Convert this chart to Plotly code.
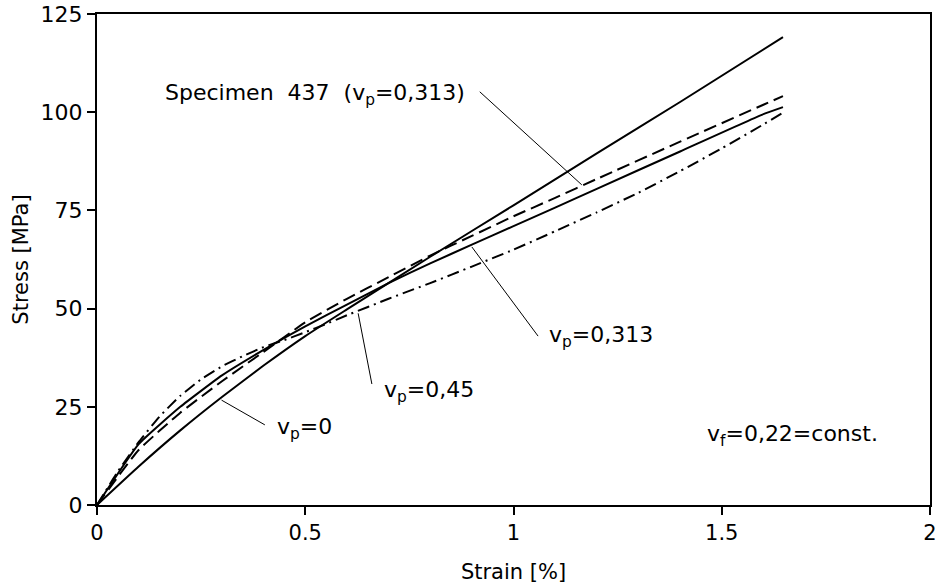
import plotly.graph_objects as go

# ---- data ----
strain_vp0 = [0, 0.1, 0.2, 0.3, 0.4, 0.5, 0.6, 0.8, 1.0, 1.2, 1.4, 1.647]
stress_vp0 = [0, 9.8, 19, 27.5, 35.5, 43, 49.8, 63.2, 76.3, 89.5, 102.6, 119.1]

strain_vp313 = [0, 0.1, 0.2, 0.3, 0.4, 0.5, 0.6, 0.7, 0.8, 0.9, 1.0, 1.1, 1.2, 1.4, 1.6, 1.647]
stress_vp313 = [0, 15.5, 25, 33, 39.5, 45.5, 51, 56.5, 61.5, 66.3, 71, 75.7, 80.5, 90, 99.5, 101.3]

strain_spec = [0, 0.1, 0.2, 0.3, 0.4, 0.5, 0.6, 0.7, 0.8, 0.9, 1.0, 1.1, 1.2, 1.4, 1.6, 1.647]
stress_spec = [0, 14, 23.5, 31.5, 39, 46.5, 52.5, 58, 63.5, 68.5, 73.5, 78.2, 83, 92.5, 101.9, 104.1]

strain_vp45 = [0, 0.05, 0.1, 0.15, 0.2, 0.25, 0.3, 0.35, 0.4, 0.45, 0.5, 0.55, 0.6, 0.7, 0.8, 0.9, 1.0, 1.1, 1.2, 1.3, 1.4, 1.5, 1.6, 1.647]
stress_vp45 = [0, 8.5, 16, 22.5, 27.8, 32, 35.3, 37.9, 40.2, 42, 44, 46.1, 48.3, 52.5, 56.5, 60.7, 65, 69.7, 74.5, 79.5, 85, 90.8, 96.9, 99.9]

x_ticks = [0, 0.5, 1, 1.5, 2]
x_tick_labels = ["0", "0.5", "1", "1.5", "2"]
y_ticks = [0, 25, 50, 75, 100, 125]
y_tick_labels = ["0", "25", "50", "75", "100", "125"]

# annotation texts with their anchor positions (data coords)
label_texts = ["Specimen  437  (v<sub>p</sub>=0,313)", "v<sub>p</sub>=0,313", "v<sub>p</sub>=0,45",
               "v<sub>p</sub>=0", "v<sub>f</sub>=0,22=const."]
label_x = [0.159, 1.080, 0.684, 0.427, 1.46]
label_y = [104.5, 42.8, 28.8, 19.6, 17.8]

# leader lines (start -> end on curve), data coords
leader_x0 = [0.919, 1.059, 0.660, 0.403]
leader_y0 = [105.2, 43.0, 30.8, 20.4]
leader_x1 = [1.164, 0.900, 0.627, 0.299]
leader_y1 = [81.5, 65.7, 48.8, 26.7]

FONT = "DejaVu Sans"

fig = go.Figure()
line_w = 2
sm = 0.4
fig.add_trace(go.Scatter(x=strain_vp0, y=stress_vp0, mode="lines", line=dict(color="black", width=line_w, shape="spline", smoothing=sm)))
fig.add_trace(go.Scatter(x=strain_vp313, y=stress_vp313, mode="lines", line=dict(color="black", width=line_w, shape="spline", smoothing=sm)))
fig.add_trace(go.Scatter(x=strain_spec, y=stress_spec, mode="lines", line=dict(color="black", width=line_w, dash="13px,6px", shape="spline", smoothing=sm)))
fig.add_trace(go.Scatter(x=strain_vp45, y=stress_vp45, mode="lines", line=dict(color="black", width=line_w, dash="12px,5px,2px,5px", shape="spline", smoothing=sm)))

for x0, y0, x1, y1 in zip(leader_x0, leader_y0, leader_x1, leader_y1):
    fig.add_shape(type="line", xref="x", yref="y", x0=x0, y0=y0, x1=x1, y1=y1,
                  line=dict(color="black", width=1))

for t, x, y in zip(label_texts, label_x, label_y):
    fig.add_annotation(x=x, y=y, xref="x", yref="y", text=t, showarrow=False,
                       xanchor="left", yanchor="middle",
                       font=dict(family=FONT, size=22, color="black"))

fig.update_layout(
    width=938, height=587,
    margin=dict(l=97, r=8, t=14, b=82),
    plot_bgcolor="white", paper_bgcolor="white",
    showlegend=False,
    font=dict(family=FONT, size=21, color="black"),
)
fig.update_xaxes(range=[0, 2], tickvals=x_ticks, ticktext=x_tick_labels, automargin=False,
                 showgrid=False, zeroline=False, showline=True, linecolor="black", linewidth=2,
                 mirror=True, ticks="outside", ticklen=8, tickwidth=2, tickcolor="black",
                 tickfont=dict(size=21), ticklabeloverflow="allow",
                 title=dict(text="Strain [%]", font=dict(size=21), standoff=20))
fig.update_yaxes(range=[0, 125], tickvals=y_ticks, ticktext=y_tick_labels, automargin=False,
                 showgrid=False, zeroline=False, showline=True, linecolor="black", linewidth=2,
                 mirror=True, ticks="outside", ticklen=8, tickwidth=2, tickcolor="black",
                 tickfont=dict(size=22), ticklabeloverflow="allow",
                 title=dict(text="Stress [MPa]", font=dict(size=21), standoff=6))

fig.write_html("out.html", config={"displayModeBar": False},
               post_script="document.body.style.margin='0px';document.body.style.padding='0px';")
